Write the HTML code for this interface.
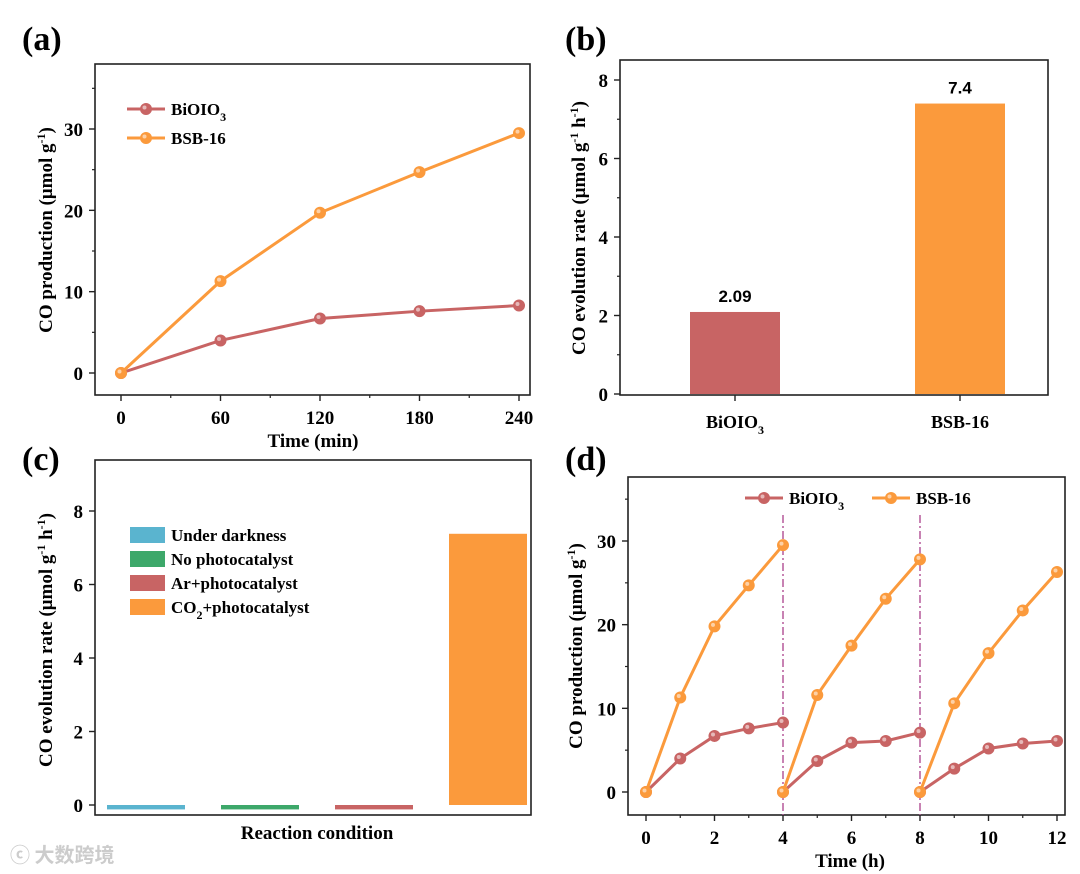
<!DOCTYPE html>
<html><head><meta charset="utf-8"><style>
body{margin:0;background:#fff}
svg{display:block;font-family:"Liberation Serif",serif;font-weight:bold}
</style></head><body>
<svg id="fig" width="1080" height="874" viewBox="0 0 1080 874" xmlns="http://www.w3.org/2000/svg">
<text x="22" y="50" font-size="34">(a)</text>
<text x="565" y="50" font-size="34">(b)</text>
<text x="22" y="470" font-size="34">(c)</text>
<text x="565" y="470" font-size="34">(d)</text>
<text x="10" y="862" font-size="20" fill="#ccc" font-family="'Noto Sans CJK SC',sans-serif">ⓒ 大数跨境</text>
</svg>
<script>
const RED='#c86464',ORG='#fb9a3c';
const aTimes=[0,60,120,180,240];
const aBi=[0,4.0,6.7,7.6,8.3];
const aBSB=[0,11.3,19.7,24.7,29.5];
const bCats=['BiOIO3','BSB-16'];
const bVals=[2.09,7.4];
const cCats=['Under darkness','No photocatalyst','Ar+photocatalyst','CO2+photocatalyst'];
const cVals=[-0.12,-0.12,-0.12,7.38];
const dTimes=[0,1,2,3,4,4,5,6,7,8,8,9,10,11,12];
const dBi=[0,4.0,6.7,7.6,8.3,0,3.7,5.9,6.1,7.1,0,2.8,5.2,5.8,6.1];
const dBSB=[0,11.3,19.8,24.7,29.5,0,11.6,17.5,23.1,27.8,0,10.6,16.6,21.7,26.3];
const NS='http://www.w3.org/2000/svg';
const svg=document.getElementById('fig');
function el(t,a,txt,p){const e=document.createElementNS(NS,t);for(const k in a)e.setAttribute(k,a[k]);if(txt!=null)e.textContent=txt;(p||svg).appendChild(e);return e;}
function lin(d0,d1,r0,r1){return v=>r0+(v-d0)*(r1-r0)/(d1-d0);}
function frame(x0,y0,x1,y1,name){const r=el('rect',{x:x0,y:y0,width:x1-x0,height:y1-y0,fill:'none',stroke:'#222','stroke-width':1.6});

}
function yTicks(Y,x0,major,minor,name){major.forEach(v=>{el('line',{x1:x0-6,x2:x0,y1:Y(v),y2:Y(v),stroke:'#222','stroke-width':1.4});
const t=el('text',{x:x0-12,y:Y(v)+7,'font-size':19,'text-anchor':'end'},v);

});
minor.forEach(v=>el('line',{x1:x0-3,x2:x0,y1:Y(v),y2:Y(v),stroke:'#222','stroke-width':1.2}));}
function xTicks(X,y1,major,minor,name){major.forEach(v=>{el('line',{x1:X(v),x2:X(v),y1:y1,y2:y1+6,stroke:'#222','stroke-width':1.4});
const t=el('text',{x:X(v),y:y1+29,'font-size':19,'text-anchor':'middle'},v);

});
minor.forEach(v=>el('line',{x1:X(v),x2:X(v),y1:y1,y2:y1+3,stroke:'#222','stroke-width':1.2}));}
function yTitle(x,y,html,name){const t=el('text',{transform:`translate(${x},${y}) rotate(-90)`,'font-size':19,'text-anchor':'middle'});t.innerHTML=html;

}
function marker(x,y,c){el('circle',{cx:x,cy:y,r:5.5,fill:c,stroke:c,'stroke-width':1});el('circle',{cx:x-1.5,cy:y-1.5,r:2,fill:'#fff',opacity:0.55});}
function series(X,Y,xs,ys,c,name,breakAt){let segs=[[]];xs.forEach((x,i)=>{if(breakAt&&i>0&&xs[i]===xs[i-1])segs.push([]);segs[segs.length-1].push([X(x),Y(ys[i])]);});
segs.forEach(s=>{const p=el('polyline',{points:s.map(q=>q.join(',')).join(' '),fill:'none',stroke:c,'stroke-width':3});

});
xs.forEach((x,i)=>marker(X(x),Y(ys[i]),c));}
function legLine(x,y,c,label,name){el('line',{x1:x,x2:x+38,y1:y,y2:y,stroke:c,'stroke-width':3});marker(x+19,y,c);
const t=el('text',{x:x+44,y:y+6,'font-size':17});t.innerHTML=label;

}
const BI='BiOIO<tspan font-size="12" dy="6">3</tspan>';
// (a)
{const X=lin(0,240,121,519),Y=lin(0,30,373,129);
frame(95,64,530,395,'panel-a');
yTicks(Y,95,[0,10,20,30],[5,15,25,35],'a');xTicks(X,395,aTimes,[30,90,150,210],'a');
yTitle(52,230,'CO production (μmol g<tspan font-size="12" dy="-7">-1</tspan><tspan dy="7">)</tspan>','a');
const t=el('text',{x:313,y:447,'font-size':19,'text-anchor':'middle'},'Time (min)');


series(X,Y,aTimes,aBi,RED,'a-bioio3');series(X,Y,aTimes,aBSB,ORG,'a-bsb16');
legLine(127,109,RED,BI,'a-legend-bioio3');legLine(127,138,ORG,'BSB-16','a-legend-bsb16');}
// (b)
{const Y=lin(0,8,394,80);const cx=[735,960];
frame(620,60,1048,395,'panel-b');
yTicks(Y,620,[0,2,4,6,8],[1,3,5,7],'b');
yTitle(585,228,'CO evolution rate (μmol g<tspan font-size="12" dy="-7">-1</tspan><tspan dy="7"> h</tspan><tspan font-size="12" dy="-7">-1</tspan><tspan dy="7">)</tspan>','b');
bVals.forEach((v,i)=>{const r=el('rect',{x:cx[i]-45,y:Y(v),width:90,height:Y(0)-Y(v),fill:i?ORG:RED});


el('text',{x:cx[i],y:Y(v)-10,'font-size':17,'text-anchor':'middle','font-family':'Liberation Sans'},v);
el('line',{x1:cx[i],x2:cx[i],y1:395,y2:401,stroke:'#222','stroke-width':1.4});
const t=el('text',{x:cx[i],y:428,'font-size':18,'text-anchor':'middle'});t.innerHTML=i?'BSB-16':BI;

});}
// (c)
{const Y=lin(0,8,805,511);const cx=[146,260,374,488];const cols=['#5ab4cf','#3da86a',RED,ORG];
frame(95,460,531,815,'panel-c');
yTicks(Y,95,[0,2,4,6,8],[],'c');
yTitle(52,640,'CO evolution rate (μmol g<tspan font-size="12" dy="-7">-1</tspan><tspan dy="7"> h</tspan><tspan font-size="12" dy="-7">-1</tspan><tspan dy="7">)</tspan>','c');
cVals.forEach((v,i)=>{const y=Math.min(Y(v),Y(0)),h=Math.abs(Y(v)-Y(0));const r=el('rect',{x:cx[i]-39,y:y,width:78,height:h,fill:cols[i]});

});
const labs=['Under darkness','No photocatalyst','Ar+photocatalyst','CO<tspan font-size="12" dy="6">2</tspan><tspan dy="-6">+photocatalyst</tspan>'];
labs.forEach((l,i)=>{const y=535+i*24;el('rect',{x:130,y:y-8,width:35,height:16,fill:cols[i]});
const t=el('text',{x:171,y:y+6,'font-size':17});t.innerHTML=l;

});
const t=el('text',{x:317,y:839,'font-size':19,'text-anchor':'middle'},'Reaction condition');

}
// (d)
{const X=lin(0,12,646,1057),Y=lin(0,30,792,541);
frame(628,477,1065,815,'panel-d');
yTicks(Y,628,[0,10,20,30],[5,15,25,35],'d');xTicks(X,815,[0,2,4,6,8,10,12],[1,3,5,7,9,11],'d');
yTitle(582,646,'CO production (μmol g<tspan font-size="12" dy="-7">-1</tspan><tspan dy="7">)</tspan>','d');
const t=el('text',{x:850,y:867,'font-size':19,'text-anchor':'middle'},'Time (h)');


[4,8].forEach(v=>el('line',{x1:X(v),x2:X(v),y1:515,y2:815,stroke:'#b5589a','stroke-width':1.5,'stroke-dasharray':'8,3,2,3'}));
series(X,Y,dTimes,dBi,RED,'d-bioio3',true);series(X,Y,dTimes,dBSB,ORG,'d-bsb16',true);
legLine(745,498,RED,BI,'d-legend-bioio3');legLine(872,498,ORG,'BSB-16','d-legend-bsb16');}
</script>
</body></html>
